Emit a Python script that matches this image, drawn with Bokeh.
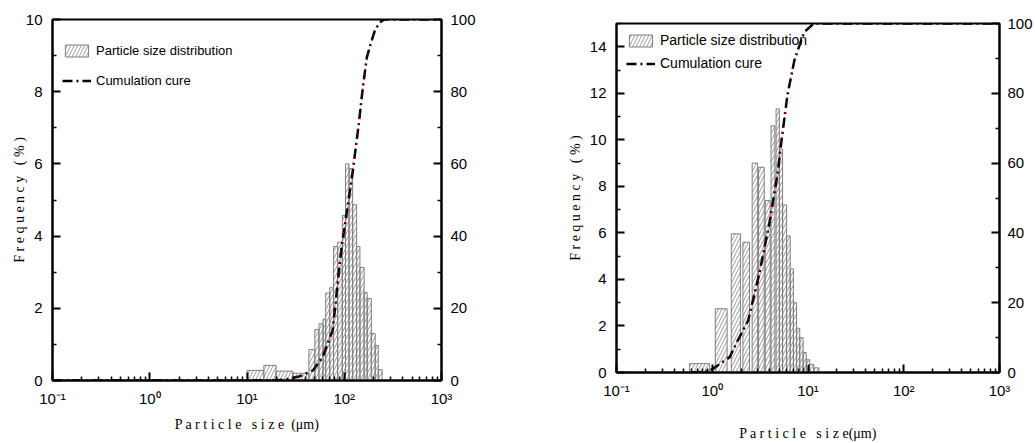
from bokeh.plotting import figure
from bokeh.models import (LinearAxis, Range1d, FixedTicker, CustomJSTickFormatter,
                          Legend, LegendItem)
from bokeh.layouts import row
from bokeh.embed import file_html
from bokeh.resources import INLINE

# ---------------- data ----------------
# left panel: particle size distribution (bin edges in um, frequency %)
left_bin_lo = [10, 14.9, 19.9, 29.6, 43.3, 49.8, 54.9, 60.5, 64.5, 70.9, 77.6, 85.5, 95.5,
               103, 112, 122, 134, 145, 160, 172, 190, 208, 224]
left_bin_hi = [14.9, 19.9, 29.6, 43.3, 49.8, 54.9, 60.5, 64.5, 70.9, 77.6, 85.5, 95.5, 103,
               112, 122, 134, 145, 160, 172, 190, 208, 224, 245]
left_freq = [0.28, 0.42, 0.26, 0.2, 0.86, 1.41, 1.57, 1.7, 2.42, 2.57, 3.71, 3.83, 4.57,
             6.0, 5.87, 4.87, 3.71, 3.13, 2.44, 2.27, 1.30, 0.97, 0.3]
left_cum_size = [0.1, 10, 20, 25, 35, 47.6, 60, 76, 93, 121, 141, 155, 171, 189, 209, 240, 260, 1000]
left_cum_pct = [0, 0, 0.1, 0.3, 1.2, 2.8, 6.5, 13.9, 36, 57, 71, 81, 89.6, 93.7, 97.4, 99.5, 100, 100]

# right panel
right_bin_lo = [0.58, 1.076, 1.58, 2.09, 2.61, 3.05, 3.58, 4.11, 4.64, 5.03, 5.43, 5.98, 6.52,
                7.04, 7.6, 8.2, 8.9, 9.6, 10.4, 11.5]
right_bin_hi = [0.94, 1.43, 1.97, 2.45, 2.98, 3.49, 4.03, 4.51, 5.02, 5.43, 5.98, 6.52, 7.04,
                7.6, 8.2, 8.9, 9.6, 10.4, 11.5, 13.0]
right_freq = [0.38, 2.74, 5.96, 5.6, 9.0, 8.82, 7.39, 10.6, 11.33, 9.6, 7.2, 5.87, 4.45,
              3.0, 1.9, 1.5, 0.86, 0.55, 0.35, 0.2]
right_cum_size = [0.6, 0.9, 1.02, 1.52, 1.85, 2.37, 3.10, 3.94, 4.82, 5.29, 6.1, 7.2, 9.1, 11.5, 1000]
right_cum_pct = [0, 0.3, 1.1, 4.4, 9.2, 14.9, 28.3, 42.6, 57, 66.5, 79.5, 89.4, 97.5, 100, 100]

x_ticks = [0.1, 1, 10, 100, 1000]
x_tick_labels = ["10\u207b\u00b9", "10\u2070", "10\u00b9", "10\u00b2", "10\u00b3"]
left_freq_ticks = [0, 2, 4, 6, 8, 10]
right_freq_ticks = [0, 2, 4, 6, 8, 10, 12, 14]
cum_ticks = [0, 20, 40, 60, 80, 100]
legend_labels = ["Particle size distribution", "Cumulation cure"]
x_label_left = "P a r t i c l e\u00a0\u00a0 s i z e\u00a0\u00a0(\u03bcm)"
x_label_right = "P a r t i c l e\u00a0\u00a0 s i z e(\u03bcm)"
y_label = "F r e q u e n c y\u00a0\u00a0 ( % )"

SANS = "Liberation Sans"
SERIF = "Liberation Serif"

x_minor = [m * d for d in (0.1, 1, 10, 100) for m in range(2, 10)]


def style_axis(ax, major_in=8, minor_in=4):
    ax.axis_line_width = 2
    ax.axis_line_color = "black"
    ax.major_tick_in = major_in
    ax.major_tick_out = 0
    ax.minor_tick_in = minor_in
    ax.minor_tick_out = 0
    ax.major_tick_line_width = 2
    ax.minor_tick_line_width = 1.5
    ax.major_tick_line_color = "black"
    ax.minor_tick_line_color = "black"
    ax.major_label_text_font = SANS
    ax.major_label_text_font_size = "15px"
    ax.major_label_text_color = "black"
    ax.axis_label_text_font = SERIF
    ax.axis_label_text_font_style = "normal"
    ax.axis_label_text_font_size = "14px"
    ax.axis_label_text_color = "black"


def make_panel(fw, fh, borders, fig_margin, ymax, yticks, lo, hi, freq, cs, cp, xlab,
               x_label_standoff, y_label_standoff, right_standoff,
               legend_loc, legend_spacing, legend_font):
    left, right, top, bottom = borders
    p = figure(frame_width=fw, frame_height=fh, x_axis_type="log",
               x_range=Range1d(0.1, 1000), y_range=Range1d(0, ymax),
               output_backend="svg", toolbar_location=None,
               min_border_left=left, min_border_right=right,
               min_border_top=top, min_border_bottom=bottom,
               margin=fig_margin)
    p.extra_y_ranges = {"cum": Range1d(0, 100)}
    p.xgrid.visible = False
    p.ygrid.visible = False
    p.outline_line_color = "black"
    p.outline_line_width = 2
    p.background_fill_color = "white"
    p.border_fill_color = "white"

    # x axis
    xa = p.xaxis[0]
    xa.ticker = FixedTicker(ticks=x_ticks, minor_ticks=x_minor)
    xa.formatter = CustomJSTickFormatter(args=dict(tvals=x_ticks, tlabels=x_tick_labels), code="""
        const lg = Math.log10(tick);
        for (let i = 0; i < tvals.length; i++) {
            if (Math.abs(Math.log10(tvals[i]) - lg) < 1e-6) return tlabels[i];
        }
        return "";
    """)
    style_axis(xa, 8, 4)
    xa.major_label_standoff = 9
    xa.axis_label = xlab
    xa.axis_label_standoff = x_label_standoff

    # left y axis
    ya = p.yaxis[0]
    ya.ticker = FixedTicker(ticks=yticks, minor_ticks=[t + 1 for t in yticks])
    style_axis(ya, 8, 4)
    ya.major_label_standoff = 10
    ya.axis_label = y_label
    ya.axis_label_standoff = y_label_standoff

    # right y axis: cumulative percentage
    ra = LinearAxis(y_range_name="cum",
                    ticker=FixedTicker(ticks=cum_ticks, minor_ticks=[t + 10 for t in cum_ticks[:-1]]))
    style_axis(ra, 8, 4)
    ra.major_label_standoff = right_standoff
    p.add_layout(ra, "right")

    bars = p.quad(left=lo, right=hi, bottom=0, top=freq, fill_color=None,
                  line_color="#7f7f7f", line_width=1,
                  hatch_pattern="/", hatch_color="#6f6f6f", hatch_weight=0.7, hatch_scale=7)
    cum = p.line(cs, cp, y_range_name="cum", line_color="black", line_width=2.5,
                 line_dash="10 4 2 4")
    p.line(cs, cp, y_range_name="cum", line_color="red", line_width=1, line_dash="1 4")

    legend = Legend(items=[LegendItem(label=legend_labels[0], renderers=[bars]),
                           LegendItem(label=legend_labels[1], renderers=[cum])],
                    location=legend_loc, border_line_color=None, background_fill_alpha=0,
                    padding=0, margin=0, spacing=legend_spacing, label_height=20,
                    glyph_height=15, glyph_width=29, label_standoff=5,
                    label_text_font=SANS, label_text_font_size=legend_font,
                    label_text_color="black")
    p.add_layout(legend)
    return p


p1 = make_panel(389, 361, (45, 35, 16, 52), (3, 0, 0, 7), 10, left_freq_ticks,
                left_bin_lo, left_bin_hi, left_freq, left_cum_size, left_cum_pct, x_label_left,
                7, -4, 9, (10, 290), 10, "13px")
p2 = make_panel(383, 349, (138, 30, 15, 62), (7, 0, 0, 0), 15, right_freq_ticks,
                right_bin_lo, right_bin_hi, right_freq, right_cum_size, right_cum_pct, x_label_right,
                24, 4, 8, (10, 299), 3, "14px")

layout = row(p1, p2)
open("out.html", "w").write(file_html(layout, INLINE))
